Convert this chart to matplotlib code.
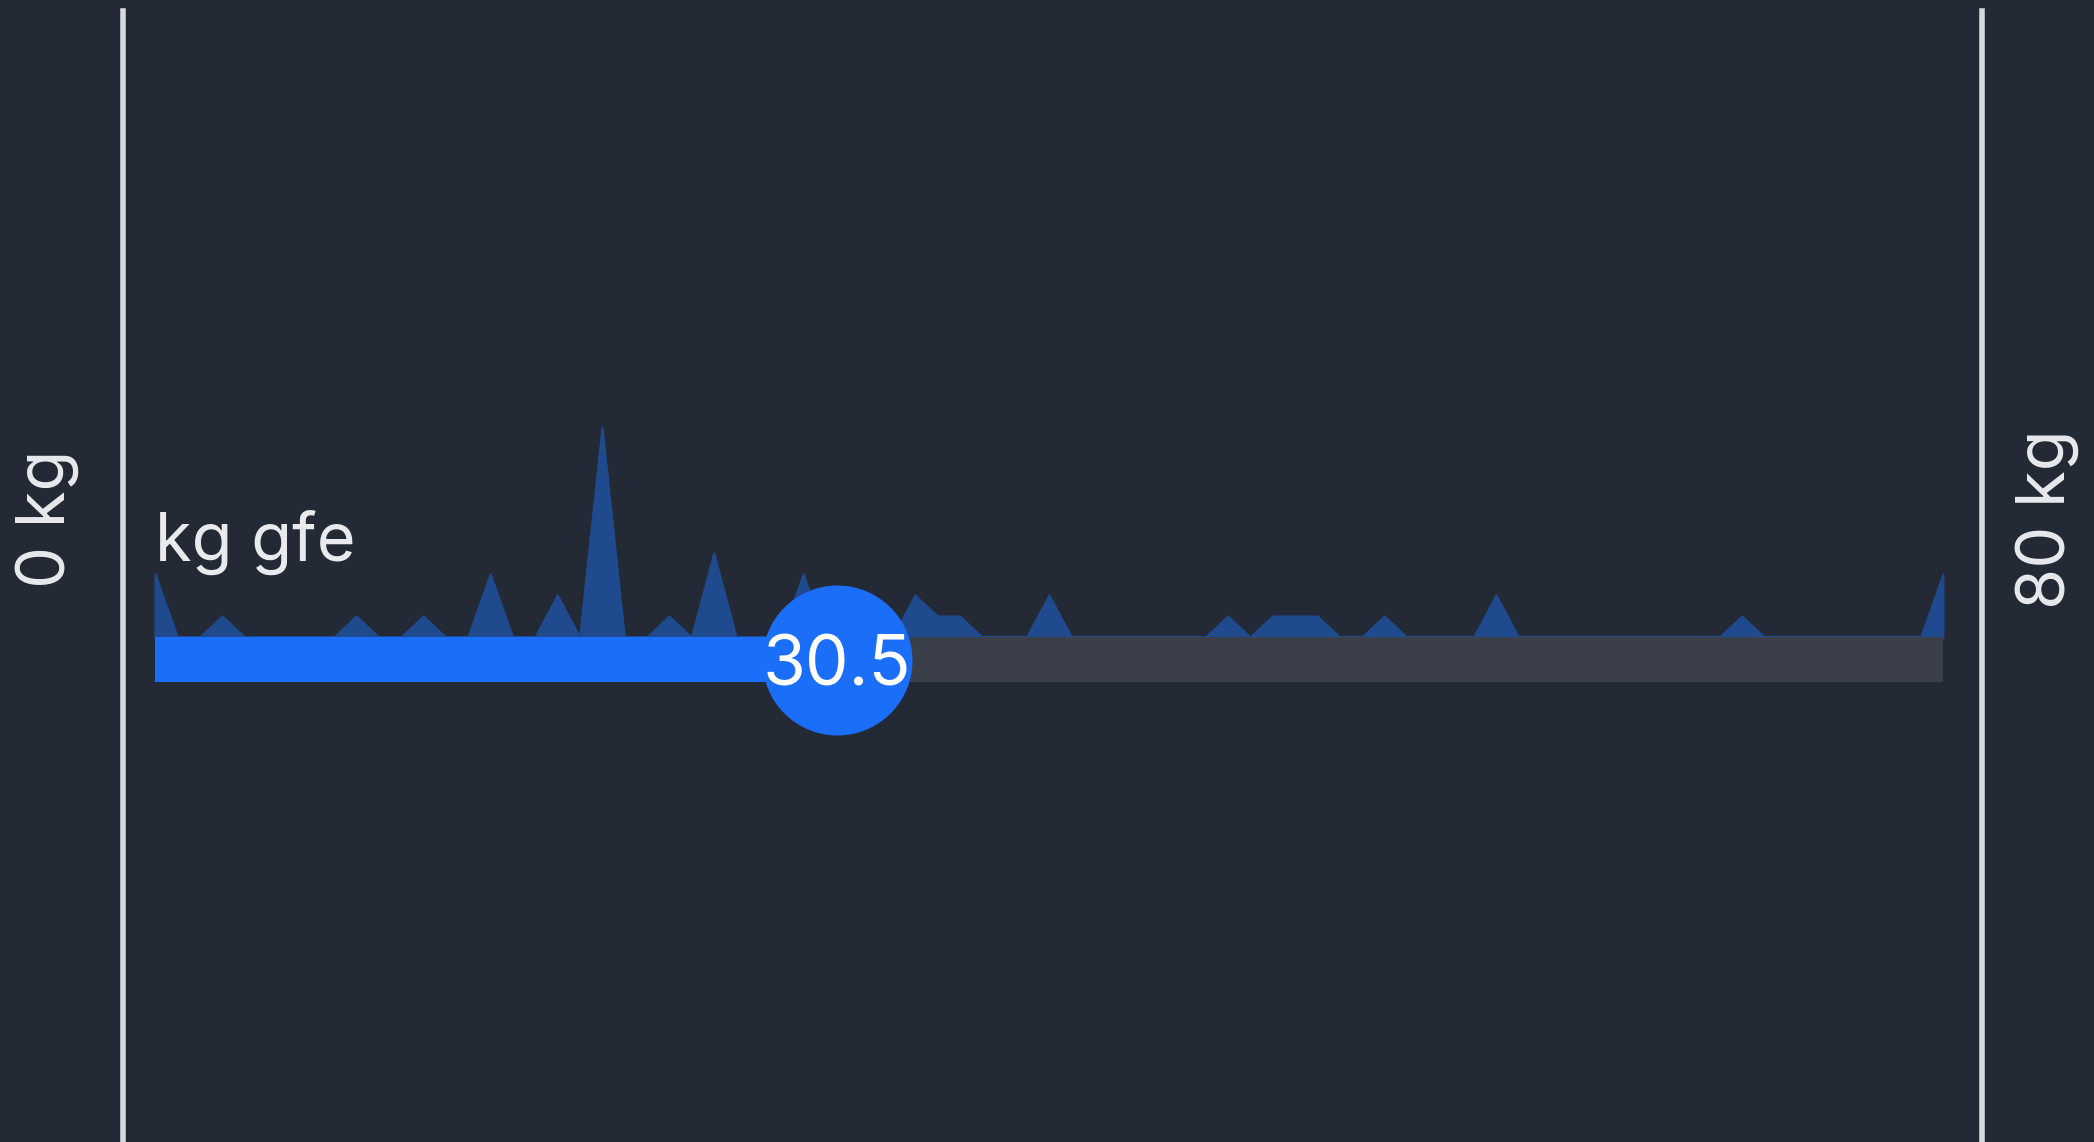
import matplotlib
matplotlib.use("Agg")
import matplotlib.pyplot as plt
import numpy as np

# weight distribution (counts per kg bin, 0..80)
peak_kg = [0, 3, 9, 12, 15, 18, 20, 23, 25, 29, 34, 35, 36, 40, 48, 50, 51, 52, 55, 60, 71, 80]
peak_counts = [3, 1, 1, 1, 3, 2, 10, 1, 4, 3, 2, 1, 1, 2, 1, 1, 1, 1, 1, 2, 1, 3]

min_kg = 0
max_kg = 80
current = 30.5
unit = "kg"
label = "kg gfe"

BG = "#232935"
BLUE = "#1b6ef7"
TRACK = "#3a3f4a"
AREA = "#1f4a8d"
LINE = "#d6d9de"


def main():
    plt.rcParams["font.family"] = ["Inter", "DejaVu Sans"]

    bins = np.arange(min_kg, max_kg + 1)
    counts = np.zeros(len(bins))
    for k, c in zip(peak_kg, peak_counts):
        counts[k - min_kg] = c

    W, H = 2094, 1142
    fig = plt.figure(figsize=(W / 100, H / 100), dpi=100)
    fig.patch.set_facecolor(BG)
    ax = fig.add_axes([0, 0, 1, 1])
    ax.set_facecolor(BG)
    ax.axis("off")

    # map pixel layout -> data limits (track 155..1943 px, baseline 637 px, 21 px per count)
    x0, x1 = 155, 1943
    kpp = (max_kg - min_kg) / (x1 - x0)
    base_y, cpp = 637, 1 / 21
    ax.set_xlim(min_kg - x0 * kpp, max_kg + (W - x1) * kpp)
    ax.set_ylim(-(H - base_y) * cpp, base_y * cpp)

    track_h = 45 * cpp
    track_mid = -track_h / 2

    # histogram area
    ax.fill_between(bins, 0, counts, color=AREA, lw=1.5, edgecolor=AREA, zorder=1)

    # track
    ax.fill_between([min_kg, max_kg], -track_h, 0, color=TRACK, lw=0, zorder=2)
    ax.fill_between([min_kg, current], -track_h, 0, color=BLUE, lw=0, zorder=3)

    # handle
    ax.scatter([current], [track_mid], s=(2 * 54) ** 2, color=BLUE, zorder=4, lw=0)
    ax.text(current, track_mid, f"{current}", color="white", fontsize=50,
            ha="center", va="center_baseline", zorder=5)

    # bounds
    ylo = -(H - base_y) * cpp
    ytop = (base_y - 11) * cpp
    ax.plot([min_kg - 32 * kpp] * 2, [ylo, ytop], color=LINE, lw=4, zorder=1)
    ax.plot([min_kg + (1982 - x0) * kpp] * 2, [ylo, ytop], color=LINE, lw=4, zorder=1)

    ax.text(min_kg, 3.62, label, color="#e8eaed", fontsize=48, ha="left", va="baseline")

    lab_y = (base_y - 519) * cpp
    ax.text(min_kg - 108 * kpp, lab_y, f"{min_kg} {unit}", color="#e8eaed", fontsize=48,
            rotation=90, ha="center", va="center")
    ax.text(min_kg + (2047 - x0) * kpp, lab_y, f"{max_kg} {unit}", color="#e8eaed", fontsize=48,
            rotation=90, ha="center", va="center")

    fig.savefig("out.png", dpi=100, facecolor=BG)


if __name__ == "__main__":
    main()
